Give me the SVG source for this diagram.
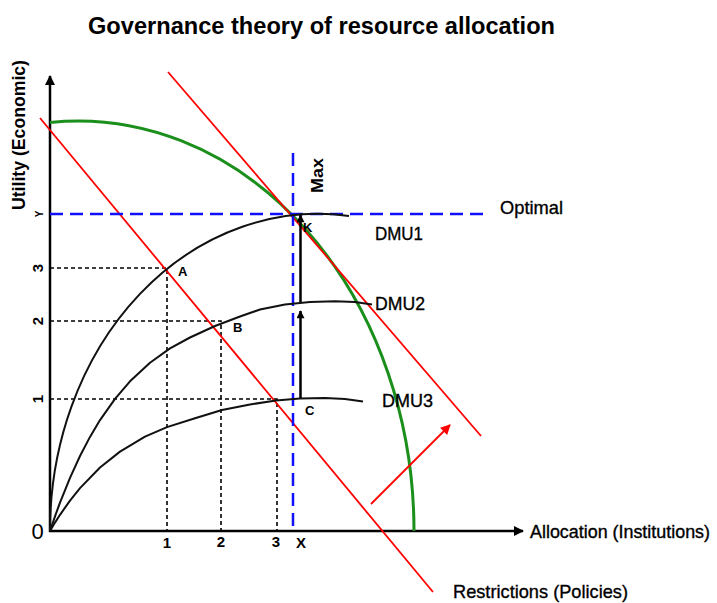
<svg xmlns="http://www.w3.org/2000/svg" width="717" height="603" viewBox="0 0 717 603">
<defs>
<marker id="ah" viewBox="0 0 10 10" refX="9" refY="5" markerWidth="10" markerHeight="10" markerUnits="userSpaceOnUse" orient="auto">
<path d="M0,0 L10,5 L0,10 Z" fill="#000"/>
</marker>
<marker id="ahs" viewBox="0 0 10 10" refX="9" refY="5" markerWidth="11" markerHeight="8" markerUnits="userSpaceOnUse" orient="auto">
<path d="M0,0 L10,5 L0,10 Z" fill="#000"/>
</marker>
<marker id="ahr" viewBox="0 0 10 10" refX="9" refY="5" markerWidth="11" markerHeight="10" markerUnits="userSpaceOnUse" orient="auto">
<path d="M0,0 L10,5 L0,10 Z" fill="#ff0000"/>
</marker>
</defs>
<style>
text { font-family: "Liberation Sans", Arial, sans-serif; fill: #000; }
.title { font-size: 23px; font-weight: bold; }
.lbl { font-size: 19px; stroke: #000; stroke-width: 0.35; }
.bold { font-weight: bold; }
.tick { font-size: 15px; font-weight: bold; }
.pt { font-size: 13px; font-weight: bold; }
.axis { stroke: #000; stroke-width: 2.5; fill: none; }
.curve { stroke: #111; stroke-width: 2; fill: none; stroke-linejoin: round; }
.guide { stroke: #000; stroke-width: 1.6; stroke-dasharray: 4 3; fill: none; }
.blue { stroke: #1010ff; stroke-width: 2.5; stroke-dasharray: 13 7; fill: none; }
.red { stroke: #ff0000; stroke-width: 1.8; fill: none; }
.green { stroke: #1b8f1b; stroke-width: 3; fill: none; }
.vec { stroke: #000; stroke-width: 2.5; fill: none; }
</style>
<rect width="717" height="603" fill="#fff"/>

<text class="title" x="88" y="34" textLength="467" lengthAdjust="spacingAndGlyphs">Governance theory of resource allocation</text>

<g id="axes">
<line class="axis" x1="50" y1="532" x2="50" y2="76" marker-end="url(#ah)"/>
<line class="axis" x1="49" y1="531" x2="523" y2="531" marker-end="url(#ah)"/>
<text class="bold" style="font-size:18px" transform="translate(25,210) rotate(-90)" textLength="150" lengthAdjust="spacingAndGlyphs">Utility (Economic)</text>
<text class="lbl" style="font-size:17.5px" x="530" y="538" textLength="180" lengthAdjust="spacingAndGlyphs">Allocation (Institutions)</text>
<text style="font-size:22px" x="37.5" y="539" text-anchor="middle">0</text>
<text style="font-size:10px;font-weight:bold" transform="translate(43,214) rotate(-90)" text-anchor="middle">Y</text>
<text class="tick" transform="translate(43,268) rotate(-90)" text-anchor="middle">3</text>
<text class="tick" transform="translate(43,321) rotate(-90)" text-anchor="middle">2</text>
<text class="tick" transform="translate(43,399) rotate(-90)" text-anchor="middle">1</text>
<text class="tick" x="167" y="548" text-anchor="middle">1</text>
<text class="tick" x="221" y="547" text-anchor="middle">2</text>
<text class="tick" x="276" y="547" text-anchor="middle">3</text>
<text class="tick" x="301" y="548" text-anchor="middle">X</text>
</g>

<g id="guides">
<path class="guide" d="M50,268 H167 V531"/>
<path class="guide" d="M50,321 H221 V531"/>
<path class="guide" d="M50,399 H277 V531"/>
</g>

<g id="frontier">
<path class="green" d="M50,122.4 A336,410 0 0 1 414,531"/>
</g>

<g id="restrictions">
<line class="red" x1="40" y1="118" x2="433" y2="592"/>
<line class="red" x1="168" y1="72" x2="481" y2="436"/>
<line class="red" x1="371" y1="504" x2="450" y2="425" marker-end="url(#ahr)"/>
<text class="lbl" x="453" y="598" textLength="175" lengthAdjust="spacingAndGlyphs">Restrictions (Policies)</text>
</g>

<g id="optimal">
<line class="blue" x1="50" y1="214" x2="490" y2="214"/>
<line class="blue" x1="293" y1="153" x2="293" y2="531"/>
<text class="bold" style="font-size:17px" transform="translate(323,193) rotate(-90)" textLength="35" lengthAdjust="spacingAndGlyphs">Max</text>
<text class="lbl" x="500" y="214" textLength="63" lengthAdjust="spacingAndGlyphs">Optimal</text>
</g>

<g id="dmu1">
<path class="curve" d="M50,531 A268,317 0 0 1 349,216"/>
<text class="lbl" x="375" y="240" textLength="48" lengthAdjust="spacingAndGlyphs">DMU1</text>
</g>

<g id="dmu2">
<path class="curve" d="M50,531 L55,516.4 L60,502.6 L70,477.8 L80,456 L90,436.9 L100,420.1 L115,398.8 L130,381.3 L150,362.7 L170,348.4 L190,337.5 L215,326 L240,316.5 L260,309.5 L285,304.5 L310,302 L335,301.2 L355,302 L372,304.5"/>
<text class="lbl" x="375" y="310" textLength="50" lengthAdjust="spacingAndGlyphs">DMU2</text>
</g>

<g id="dmu3">
<path class="curve" d="M50,531 L55,522.6 L60,514.8 L70,500.6 L80,488.1 L100,467.5 L120,451.6 L145,436.7 L167,427.1 L195,418.2 L222,410 L250,404.5 L276,400.5 L300,398.5 L325,398 L345,399 L363,401.5"/>
<text class="lbl" x="382" y="407" textLength="51" lengthAdjust="spacingAndGlyphs">DMU3</text>
</g>

<g id="points">
<text class="pt" x="178" y="276">A</text>
<text class="pt" x="233" y="332">B</text>
<text class="pt" x="305" y="415">C</text>
<text class="pt" x="303" y="232">K</text>
</g>

<g id="connectors">
<line class="vec" x1="300.5" y1="398" x2="300.5" y2="311" marker-end="url(#ahs)"/>
<line class="vec" x1="300.5" y1="302" x2="300.5" y2="215" marker-end="url(#ahs)"/>
</g>
</svg>
